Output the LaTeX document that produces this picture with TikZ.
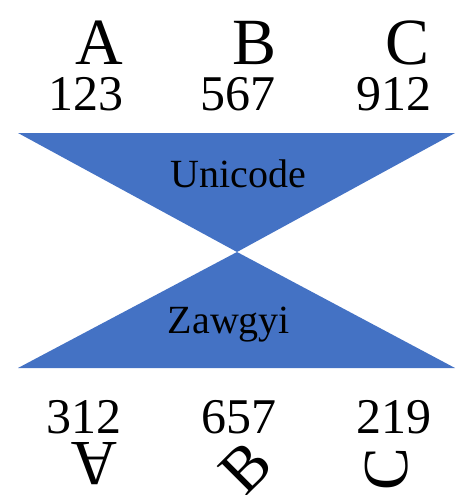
\documentclass[tikz,border=0pt]{standalone}
\usepackage{fontspec}
\setmainfont{Liberation Serif}
\definecolor{tri}{HTML}{4472C4}
\begin{document}
\begin{tikzpicture}[x=1pt,y=-1pt,
  letter/.style={inner sep=0pt,anchor=base,font=\fontsize{66}{66}\selectfont},
  num/.style={inner sep=0pt,anchor=base,font=\fontsize{50}{50}\selectfont},
  rlet/.style={inner sep=0pt,anchor=center,font=\fontsize{64}{64}\selectfont},
  lab/.style={inner sep=0pt,anchor=base,font=\fontsize{40}{40}\selectfont},
  trifill/.style={fill=tri,draw=none}]
\useasboundingbox (0,0) rectangle (455,495);
% triangles
\fill[trifill] (18,133) -- (455,133) -- (237,252) -- cycle;
\fill[trifill] (18,368) -- (455,368) -- (237,252) -- cycle;
% top letters
\node[letter] (ta) at (99,64) {A};
\node[letter] (tb) at (255,64) {B};
\node[letter] (tc) at (408,64) {C};
% top numbers
\node[num] (n1) at (86,110) {123};
\node[num] (n2) at (238,110) {567};
\node[num] (n3) at (394,110) {912};
% labels
\node[lab] (uni) at (238,187) {Unicode};
\node[lab] (zaw) at (229,333) {Zawgyi};
% bottom numbers
\node[num] (m1) at (84,433) {312};
\node[num] (m2) at (239,433) {657};
\node[num] (m3) at (394,433) {219};
% bottom rotated letters
\node[rlet,rotate=180] (ba) at (94,464) {A};
\node[rlet,rotate=45] (bb) at (246,468) {B};
\node[rlet,rotate=90] (bc) at (387,469) {C};
\end{tikzpicture}
\end{document}
